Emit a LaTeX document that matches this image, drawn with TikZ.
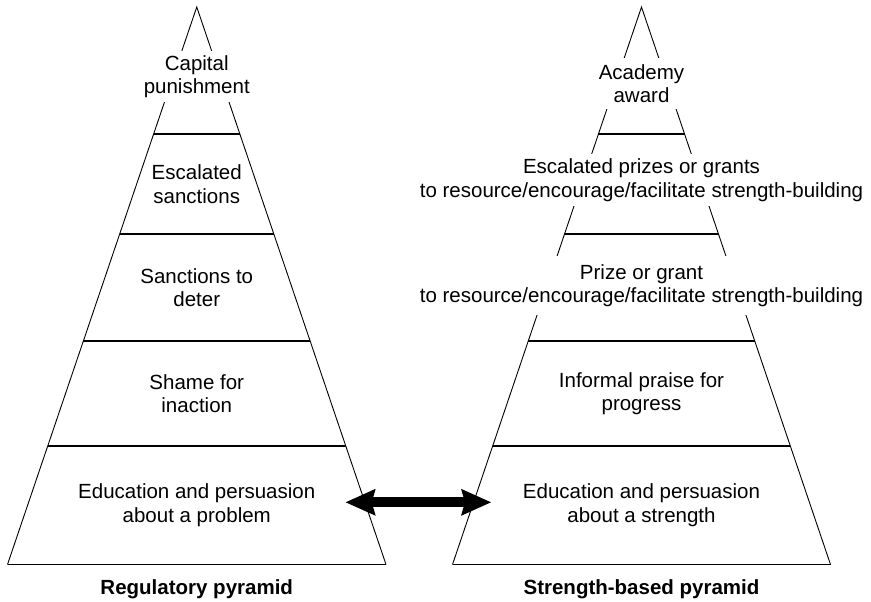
\documentclass[tikz,border=0pt]{standalone}
\usepackage{fontspec}
\setmainfont{Liberation Sans}
\usetikzlibrary{arrows.meta,calc}
\begin{document}
\begin{tikzpicture}[x=1pt,y=-1pt,
  side/.style={line width=0.9pt},
  tier/.style={line width=1.2pt},
  lbl/.style={align=center, font=\fontsize{20.5}{23.5}\selectfont, inner sep=0pt},
  gaplbl/.style={lbl, fill=white, minimum height=#1},
  title/.style={font=\fontsize{20.5}{24}\selectfont\bfseries, anchor=base, inner sep=0pt},
  bigarrow/.style={line width=10pt,
    {Stealth[length=30pt,width=27pt,inset=4pt,line width=0pt]}-{Stealth[length=30pt,width=27pt,inset=4pt,line width=0pt]}}
]
\useasboundingbox (0,0) rectangle (871,602);

% pyramid corner points
\coordinate (LA)  at (196.75,7);
\coordinate (LBL) at (7.5,564.5);
\coordinate (LBR) at (386,564.5);
\coordinate (RA)  at (641.5,7);
\coordinate (RBL) at (452.5,564.5);
\coordinate (RBR) at (830.5,564.5);

% outlines
\foreach \p in {L,R}{
  \draw[side] (\p BL) -- (\p A) -- (\p BR);
  \draw[tier] (\p BL) -- (\p BR);
  \foreach \t in {0.2278,0.4072,0.5991,0.7874}{
    \draw[tier] ($(\p A)!\t!(\p BL)$) -- ($(\p A)!\t!(\p BR)$);
  }
}

% left pyramid labels
\node[gaplbl=51pt] (lcap) at (196.75,76.5) {Capital\\punishment};
\node[lbl] (lesc) at (196.75,184) {Escalated\\sanctions};
\node[lbl] (lsan) at (196.75,287.5) {Sanctions to\\deter};
\node[lbl] (lsha) at (196.75,393.5) {Shame for\\inaction};
\node[lbl] (ledu) at (196.75,505) {Education and persuasion\\about a problem};
\node[title] (ltitle) at (196.75,594) {Regulatory pyramid};

% right pyramid labels
\node[gaplbl=51pt] (racad) at (641.5,83.5) {Academy\\award};
\node[gaplbl=52pt] (resc) at (641.5,180) {Escalated prizes or grants\\to resource/encourage/facilitate strength-building};
\node[gaplbl=59pt] (rpri) at (641.5,285.5) {Prize or grant\\to resource/encourage/facilitate strength-building};
\node[lbl] (rinf) at (641.5,393.5) {Informal praise for\\progress};
\node[lbl] (redu) at (641.5,505) {Education and persuasion\\about a strength};
\node[title] (rtitle) at (641.5,594) {Strength-based pyramid};

% double arrow
\coordinate (arrL) at (345.7,502.3);
\coordinate (arrR) at (491,502.3);
\draw[bigarrow] (arrL) -- (arrR);
\end{tikzpicture}
\end{document}
